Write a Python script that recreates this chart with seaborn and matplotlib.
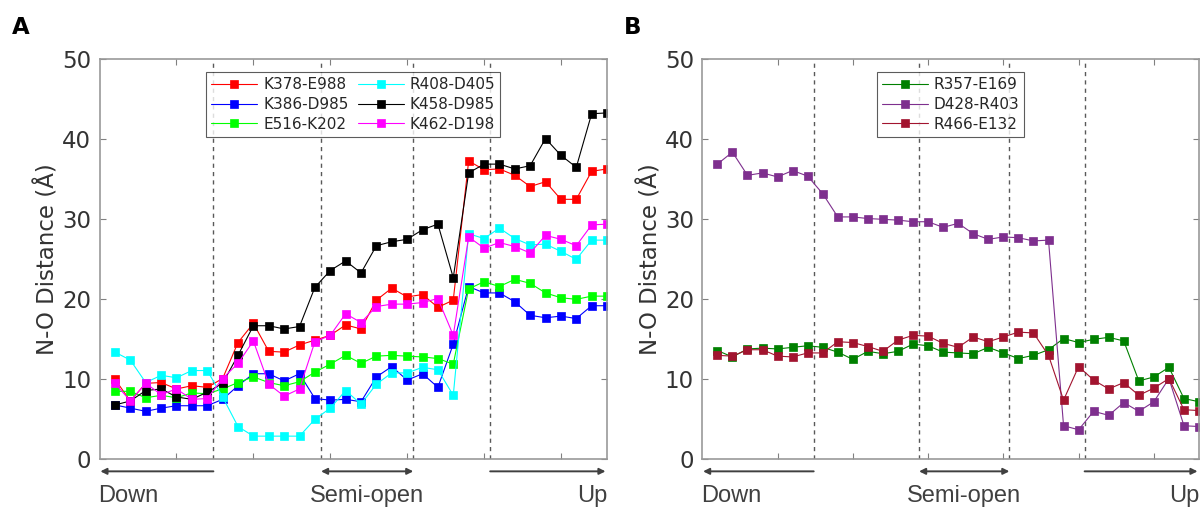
import numpy as np
import pandas as pd
import seaborn as sns
import matplotlib
matplotlib.use("Agg")
import matplotlib.pyplot as plt

# frame index along the transition path
frames = np.arange(1, 34)

# panel A: salt bridges
k378_e988 = [10.0, 7.3, 9.5, 9.6, 8.8, 9.2, 9.0, 10.1, 14.6, 17.0,
             13.5, 13.4, 14.3, 14.9, 15.5, 16.8, 16.3, 19.9, 21.4, 20.3,
             20.6, 19.0, 19.9, 37.3, 36.2, 36.3, 35.5, 34.1, 34.7, 32.5,
             32.5, 36.0, 36.3]
k386_d985 = [6.8, 6.4, 6.0, 6.4, 6.7, 6.7, 6.7, 7.5, 9.2, 10.7,
             10.7, 9.8, 10.7, 7.6, 7.4, 7.5, 7.2, 10.3, 11.6, 9.9,
             10.7, 9.0, 14.4, 21.6, 20.8, 20.8, 19.7, 18.0, 17.7, 17.9,
             17.6, 19.2, 19.2]
e516_k202 = [8.5, 8.5, 7.7, 8.0, 7.7, 8.3, 8.2, 8.8, 9.6, 10.3,
             9.6, 9.2, 9.7, 10.9, 11.9, 13.0, 12.0, 12.9, 13.0, 12.9,
             12.8, 12.6, 11.9, 21.3, 22.2, 21.6, 22.5, 22.0, 20.8, 20.2,
             20.0, 20.4, 20.4]
r408_d405 = [13.4, 12.4, 9.6, 10.5, 10.2, 11.1, 11.1, 7.8, 4.1, 2.9,
             2.9, 2.9, 2.9, 5.0, 6.4, 8.6, 6.9, 9.4, 10.8, 10.8,
             11.5, 11.2, 8.0, 28.2, 27.6, 28.9, 27.6, 26.8, 26.9, 26.0,
             25.0, 27.4, 27.4]
k458_d985 = [6.8, 7.3, 8.6, 8.8, 7.8, 7.5, 8.4, 9.5, 13.0, 16.7,
             16.7, 16.3, 16.6, 21.5, 23.6, 24.8, 23.3, 26.7, 27.2, 27.5,
             28.7, 29.4, 22.7, 35.8, 36.9, 36.9, 36.3, 36.7, 40.1, 38.0,
             36.5, 43.2, 43.3]
k462_d198 = [9.5, 7.3, 9.5, 8.1, 8.8, 7.5, 7.6, 10.1, 12.0, 14.8,
             9.4, 7.9, 8.8, 14.7, 15.5, 18.2, 17.1, 19.1, 19.4, 19.4,
             19.6, 20.1, 15.5, 27.8, 26.4, 27.1, 26.6, 25.8, 28.0, 27.5,
             26.7, 29.3, 29.4]

# panel B
r357_e169 = [13.6, 12.8, 13.8, 13.9, 13.8, 14.0, 14.2, 14.0, 13.4, 12.5,
             13.5, 13.2, 13.5, 14.4, 14.2, 13.4, 13.3, 13.2, 14.0, 13.3,
             12.6, 13.0, 13.7, 15.1, 14.6, 15.0, 15.25, 14.8, 9.8, 10.3,
             11.5, 7.6, 7.2]
d428_r403 = [36.9, 38.4, 35.5, 35.8, 35.3, 36.1, 35.4, 33.2, 30.3, 30.3,
             30.1, 30.0, 29.9, 29.7, 29.7, 29.0, 29.5, 28.2, 27.5, 27.8,
             27.7, 27.3, 27.4, 4.2, 3.7, 6.0, 5.5, 7.1, 6.0, 7.2,
             10.1, 4.2, 4.1]
r466_e132 = [13.0, 12.9, 13.7, 13.7, 12.9, 12.8, 13.3, 13.3, 14.7, 14.6,
             14.1, 13.5, 14.9, 15.5, 15.4, 14.5, 14.0, 15.3, 14.7, 15.3,
             15.9, 15.8, 13.0, 7.4, 11.6, 9.9, 8.8, 9.6, 8.0, 8.9,
             10.1, 6.2, 6.1]

names_a = ["K378-E988", "K386-D985", "E516-K202", "R408-D405", "K458-D985", "K462-D198"]
values_a = [k378_e988, k386_d985, e516_k202, r408_d405, k458_d985, k462_d198]
colors_a = ["#ff0000", "#0000ff", "#00ff00", "#00ffff", "#000000", "#ff00ff"]

names_b = ["R357-E169", "D428-R403", "R466-E132"]
values_b = [r357_e169, d428_r403, r466_e132]
colors_b = ["#008000", "#7e2f8e", "#a2142f"]

# state boundaries (dashed lines)
boundaries = [7.4, 14.4, 20.4, 25.4]

sns.set_style("white")
plt.rcParams["font.family"] = ["DejaVu Sans"]

fig = plt.figure(figsize=(12.03, 5.07), dpi=100)
ax_a = fig.add_axes([0.0828, 0.094, 0.4218, 0.789])
ax_b = fig.add_axes([0.5838, 0.094, 0.4129, 0.789])


def draw_panel(ax, names, values, colors, ncol):
    for name, vals, col in zip(names, values, colors):
        df = pd.DataFrame({"frame": frames, "dist": vals})
        sns.lineplot(data=df, x="frame", y="dist", ax=ax, color=col, label=name,
                     marker="s", markersize=5.5, linewidth=0.8,
                     markeredgecolor=col, markeredgewidth=0.5, errorbar=None)
    for b in boundaries:
        ax.axvline(b, color="0.35", linestyle=(0, (3, 3)), linewidth=1.0, zorder=0)
    ax.set_xlim(0, 33)
    ax.set_ylim(0, 50)
    ax.set_xticks([5, 10, 15, 20, 25, 30])
    ax.set_xticklabels([])
    ax.set_yticks([0, 10, 20, 30, 40, 50])
    ax.set_xlabel("")
    ax.set_ylabel("N-O Distance (Å)", fontsize=16.5, color="0.2", labelpad=2)
    ax.tick_params(direction="in", length=4, width=0.8, color="0.5",
                   top=True, right=True, bottom=True, left=True,
                   labelsize=16.5, labelcolor="0.2", pad=6)
    for sp in ax.spines.values():
        sp.set_color("0.6")
        sp.set_linewidth(1.2)
    leg = ax.legend(loc="upper center", bbox_to_anchor=(0.5, 0.968), ncol=ncol,
                    fontsize=11, frameon=True, fancybox=False, handlelength=3.0,
                    labelspacing=0.32, columnspacing=0.6, handletextpad=0.4,
                    borderpad=0.32, borderaxespad=0)
    leg.get_frame().set_edgecolor("0.2")
    leg.get_frame().set_linewidth(0.8)
    for t in leg.get_texts():
        t.set_color("0.15")

    # state arrows below the axis
    akw = dict(xycoords=("data", "axes fraction"), textcoords=("data", "axes fraction"),
               annotation_clip=False)
    y_ar = -0.03
    ax.annotate("", xy=(0.05, y_ar), xytext=(boundaries[0], y_ar),
                arrowprops=dict(arrowstyle="-|>", color="0.25", lw=1.4,
                                mutation_scale=9, shrinkA=0, shrinkB=0), **akw)
    ax.annotate("", xy=(boundaries[1], y_ar), xytext=(boundaries[2], y_ar),
                arrowprops=dict(arrowstyle="<|-|>", color="0.25", lw=1.4,
                                mutation_scale=9, shrinkA=0, shrinkB=0), **akw)
    ax.annotate("", xy=(32.9, y_ar), xytext=(boundaries[3], y_ar),
                arrowprops=dict(arrowstyle="-|>", color="0.25", lw=1.4,
                                mutation_scale=9, shrinkA=0, shrinkB=0), **akw)
    tkw = dict(transform=ax.get_xaxis_transform(), fontsize=17, color="0.25",
               family=["Liberation Sans", "DejaVu Sans"], va="top", clip_on=False)
    y_tx = -0.064
    ax.text(-0.1, y_tx, "Down", ha="left", **tkw)
    ax.text((boundaries[1] + boundaries[2]) / 2, y_tx, "Semi-open", ha="center", **tkw)
    ax.text(33, y_tx, "Up", ha="right", **tkw)


draw_panel(ax_a, names_a, values_a, colors_a, 2)
draw_panel(ax_b, names_b, values_b, colors_b, 1)

fig.text(0.0095, 0.932, "A", fontsize=16.5, fontweight="bold", color="black")
fig.text(0.519, 0.932, "B", fontsize=16.5, fontweight="bold", color="black")

fig.savefig("out.png", dpi=100)
